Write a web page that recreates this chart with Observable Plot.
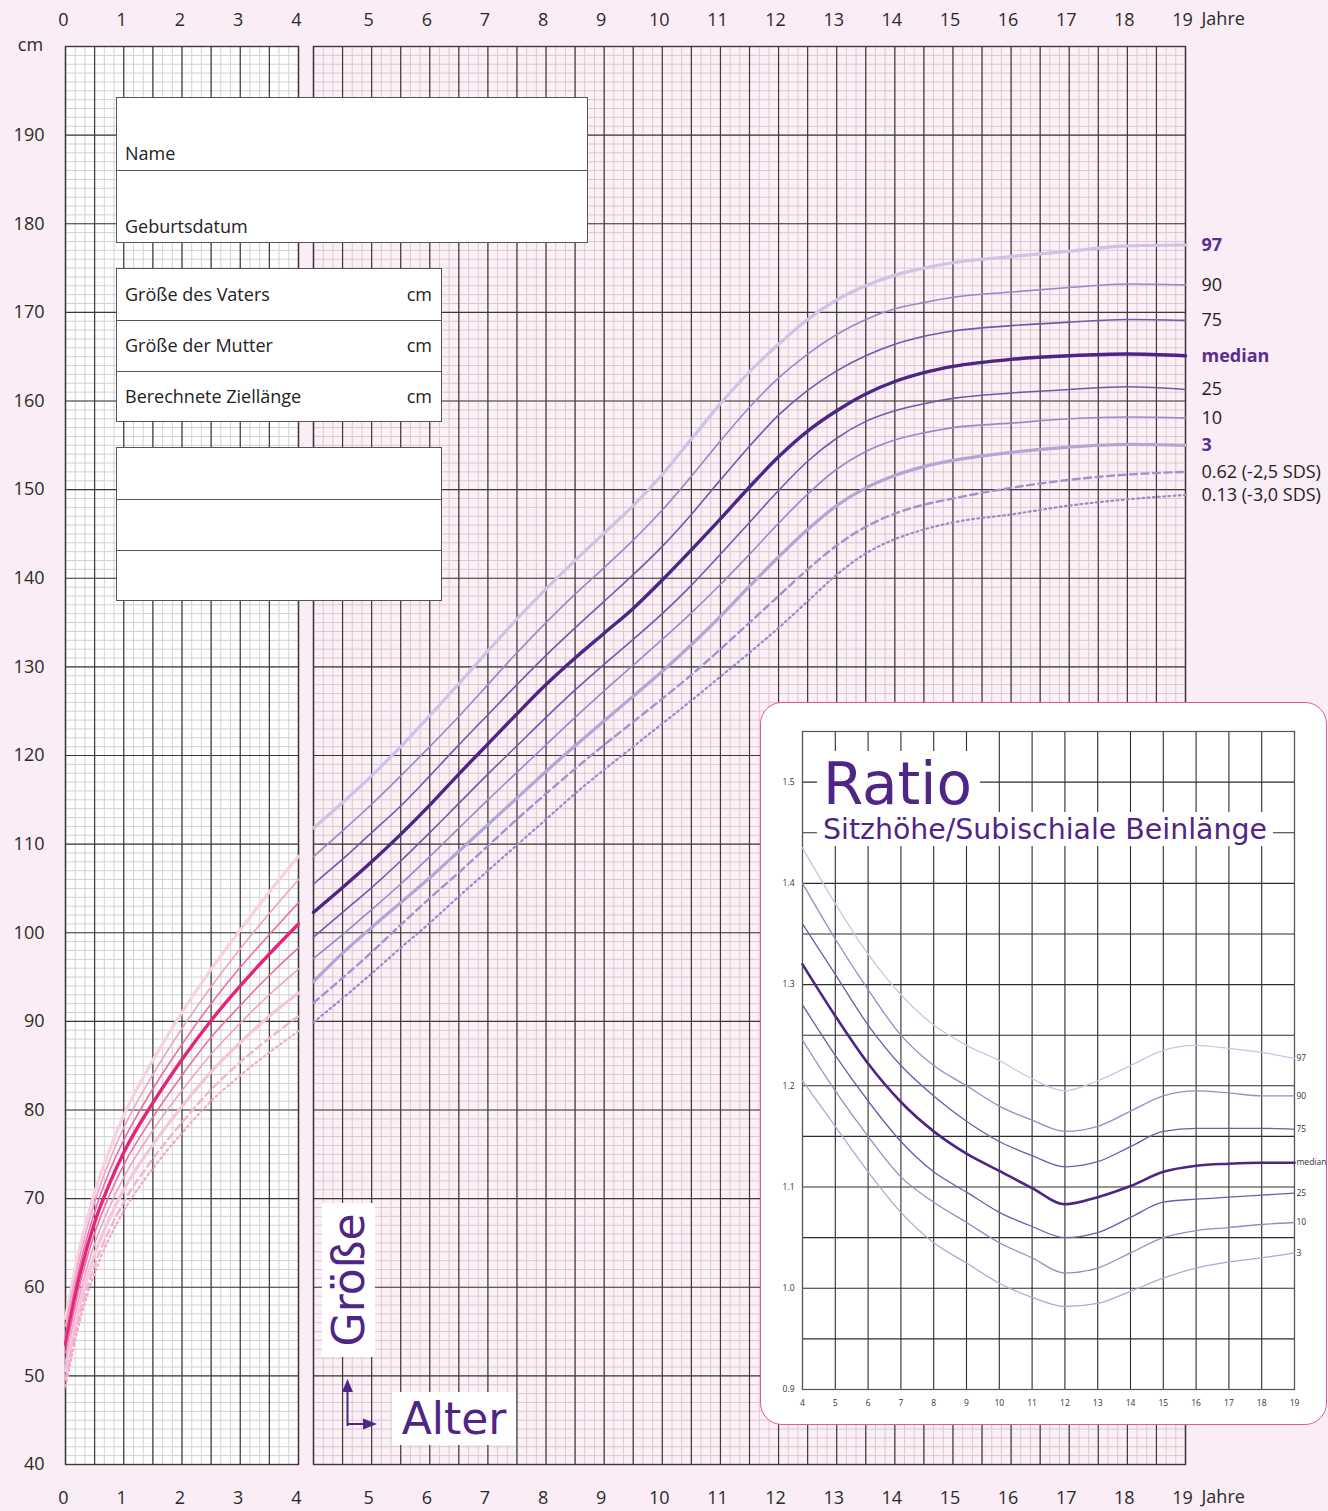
<!DOCTYPE html>
<html><head><meta charset="utf-8">
<script src="https://cdn.jsdelivr.net/npm/d3@7"></script>
<script src="https://cdn.jsdelivr.net/npm/@observablehq/plot@0.6"></script>
<style>
html,body{margin:0;padding:0;background:#fbedf5;}
#page{position:relative;width:1328px;height:1511px;overflow:hidden;background:#fbedf5;font-family:"Open Sans",sans-serif;}
.box{position:absolute;background:#fff;border:1px solid #555;box-sizing:border-box;}
</style></head>
<body><div id="page"></div>
<script>
// ---------- DATA ----------
const seriesNames = ["97","90","75","median","25","10","3","0.62","0.13"];
const seriesLabels = ["97","90","75","median","25","10","3","0.62 (-2,5 SDS)","0.13 (-3,0 SDS)"];

// 0-4 years (cm)
const agesInfant = [0,0.25,0.5,0.75,1,1.5,2,2.5,3,3.5,4];
const inf97  = [56.5,64.6,70.7,75.4,79.4,85.6,91.0,95.9,100.3,104.6,108.6];
const inf90  = [55.6,63.6,69.6,74.2,78.0,84.0,89.2,93.9,98.2,102.2,106.0];
const inf75  = [54.6,62.6,68.5,73.0,76.6,82.4,87.4,92.0,96.1,99.8,103.4];
const infMed = [53.6,61.5,67.3,71.6,75.2,80.8,85.7,90.1,94.0,97.6,101.0];
const inf25  = [52.6,60.4,66.1,70.3,73.8,79.2,83.9,88.2,91.8,95.2,98.3];
const inf10  = [51.6,59.3,64.9,69.0,72.4,77.7,82.2,86.3,89.8,93.0,95.9];
const inf3   = [50.6,58.2,63.7,67.7,71.0,76.1,80.4,84.3,87.6,90.6,93.2];
const inf062 = [49.6,57.1,62.5,66.4,69.6,74.5,78.6,82.3,85.4,88.1,90.6];
const inf013 = [48.8,56.3,61.6,65.5,68.6,73.4,77.4,81.0,83.9,86.5,88.9];

// 4-19 years (cm)
const agesChild = [4,4.5,5,5.5,6,6.5,7,7.5,8,8.5,9,9.5,10,10.5,11,11.5,12,12.5,13,13.5,14,14.5,15,16,17,18,19];
const ch97  = [111.8,114.7,117.7,121.0,124.5,128.1,131.8,135.4,138.8,142.0,145.1,148.2,151.7,155.7,159.7,163.3,166.4,169.2,171.4,173.0,174.2,175.0,175.6,176.3,176.9,177.5,177.6];
const ch90  = [108.6,111.5,114.5,117.7,121.0,124.4,128.0,131.6,135.0,138.2,141.2,144.3,147.7,151.5,155.5,159.3,162.6,165.3,167.5,169.2,170.4,171.1,171.7,172.3,172.8,173.2,173.1];
const ch75  = [105.5,108.3,111.3,114.3,117.7,121.2,124.6,128.0,131.3,134.4,137.4,140.4,143.6,147.2,151.1,154.9,158.4,161.2,163.4,165.1,166.4,167.3,167.9,168.5,168.9,169.2,169.1];
const chMed = [102.3,105.1,108.0,111.1,114.4,117.9,121.3,124.7,128.0,131.0,133.8,136.6,139.8,143.2,146.7,150.3,153.7,156.6,158.9,160.8,162.2,163.2,163.9,164.7,165.1,165.3,165.1];
const ch25  = [99.5,102.3,105.1,108.1,111.3,114.6,117.9,121.1,124.3,127.4,130.3,133.1,136.0,139.2,142.7,146.3,149.9,153.2,155.8,157.7,158.9,159.7,160.3,160.9,161.3,161.6,161.3];
const ch10  = [97.1,99.8,102.6,105.5,108.6,111.8,115.0,118.1,121.2,124.3,127.3,130.2,133.1,136.1,139.3,142.7,146.2,149.5,152.3,154.3,155.6,156.4,157.0,157.5,158.0,158.2,158.1];
const ch3   = [94.5,97.7,100.6,103.4,106.2,109.2,112.2,115.2,118.2,121.1,123.9,126.7,129.5,132.5,135.7,139.1,142.4,145.5,148.2,150.2,151.6,152.6,153.3,154.2,154.8,155.1,155.0];
const ch062 = [92.1,94.9,97.8,100.9,103.9,106.8,109.8,112.8,115.7,118.5,121.2,123.8,126.4,129.1,132.0,135.0,138.0,141.0,143.7,145.8,147.3,148.3,149.0,150.2,151.1,151.7,152.0];
const ch013 = [89.9,92.6,95.4,98.3,101.1,104.1,107.0,109.9,112.8,115.7,118.4,121.0,123.6,126.2,128.9,131.6,134.4,137.4,140.4,142.8,144.4,145.5,146.3,147.2,148.2,148.9,149.4];

// Ratio Sitzhöhe / subischiale Beinlänge, 4-19 years
const ratioNames = ["97","90","75","median","25","10","3"];
const ratioAges = [4,5,6,7,8,9,10,11,12,13,14,15,16,17,18,19];
const r97  = [1.435,1.38,1.33,1.29,1.26,1.24,1.225,1.207,1.195,1.205,1.22,1.235,1.24,1.237,1.233,1.227];
const r90  = [1.40,1.345,1.295,1.25,1.22,1.20,1.18,1.166,1.155,1.16,1.175,1.19,1.195,1.193,1.19,1.19];
const r75  = [1.36,1.31,1.26,1.22,1.19,1.165,1.145,1.131,1.12,1.125,1.14,1.155,1.158,1.158,1.158,1.157];
const rMed = [1.32,1.269,1.222,1.184,1.155,1.133,1.116,1.099,1.083,1.09,1.101,1.115,1.121,1.123,1.124,1.124];
const r25  = [1.28,1.23,1.185,1.145,1.115,1.095,1.075,1.061,1.05,1.055,1.07,1.085,1.088,1.09,1.092,1.094];
const r10  = [1.245,1.195,1.15,1.11,1.085,1.065,1.045,1.03,1.015,1.02,1.035,1.05,1.057,1.06,1.063,1.065];
const r3   = [1.205,1.16,1.115,1.075,1.045,1.025,1.005,0.991,0.982,0.985,0.997,1.01,1.02,1.026,1.03,1.035];

const xTicksLeft = [0,1,2,3,4];
const xTicksRight = [5,6,7,8,9,10,11,12,13,14,15,16,17,18,19];
const yTicks = [40,50,60,70,80,90,100,110,120,130,140,150,160,170,180,190];
const ratioYTicks = [0.9,1.0,1.1,1.2,1.3,1.4,1.5];

// ---------- STYLES ----------
const purpleCol = ["#cdc4e3","#9c88c6","#7657a9","#4e2484","#7657a9","#9c88c6","#b4a5d5","#a592cc","#9d89c8"];
const pinkCol   = ["#f8d0e2","#f0a2c5","#ea6fa6","#e5257c","#ea6fa6","#f0a2c5","#f6c5db","#f3b3cf","#f1a8ca"];
const widths    = [3.2,1.6,1.6,3.4,1.6,1.6,3.2,2.4,2.2];
const dashes    = [null,null,null,null,null,null,null,"7,4.5","1.8,3.4"];
const ratioCol  = ["#cdc4e3","#9c88c6","#7657a9","#4e2484","#7657a9","#9c88c6","#b4a5d5"];
const ratioW    = [1.3,1.3,1.3,2.6,1.3,1.3,1.3];

const W = 1328, H = 1511;
const infantSeries = [inf97,inf90,inf75,infMed,inf25,inf10,inf3,inf062,inf013];
const childSeries = [ch97,ch90,ch75,chMed,ch25,ch10,ch3,ch062,ch013];
const ratioSeries = [r97,r90,r75,rMed,r25,r10,r3];

function rows(ages, vals){ return ages.map((a,i)=>({age:a, v:vals[i]})); }
function curveMarks(ages, series, cols){
  return series.map((s,k)=>Plot.line(rows(ages,s), {
    x:"age", y:"v", stroke: cols[k], strokeWidth: widths[k],
    strokeDasharray: dashes[k] || undefined, curve:"monotone-x"
  }));
}
function gridMarks(x0, x1, fine, dark){
  const fx = d3.range(Math.round(x0*6), Math.round(x1*6)+1).map(i=>i/6);
  const dx = d3.range(Math.round(x0*2), Math.round(x1*2)+1).map(i=>i/2);
  return [
    Plot.ruleX(fx, {stroke: fine, strokeWidth: 1}),
    Plot.ruleY(d3.range(40,201,1), {stroke: fine, strokeWidth: 1}),
    Plot.ruleX(dx, {stroke: dark, strokeWidth: 1.2}),
    Plot.ruleY(d3.range(40,201,10), {stroke: dark, strokeWidth: 1.2}),
    Plot.frame({stroke: dark, strokeWidth: 1.4})
  ];
}
const axisStyle = {tickSize:0, fontSize:18, fill:"#2a2a2a", label:null};

const left = Plot.plot({
  width: W, height: H,
  marginLeft: 65, marginRight: W-298, marginTop: 46, marginBottom: H-1464,
  x: {domain:[0,4], label:null}, y: {domain:[40,200], label:null},
  style: {background:"transparent", fontFamily:"Open Sans", fontSize:"18px", color:"#2a2a2a", overflow:"visible"},
  marks: [
    Plot.frame({fill:"white"}),
    ...gridMarks(0,4,"#d2d2d2","#3a3a3a"),
    ...curveMarks(agesInfant, infantSeries, pinkCol),
    Plot.axisX(xTicksLeft, {anchor:"top", ...axisStyle, tickPadding:21, dx:-2}),
    Plot.axisX(xTicksLeft, {anchor:"bottom", ...axisStyle, tickPadding:27, dx:-2}),
    Plot.axisY(yTicks, {anchor:"left", ...axisStyle, tickPadding:21}),
    Plot.text(["cm"], {x:0, y:200, text:d=>d, dx:-35, dy:-1, fontSize:18, fill:"#2a2a2a"})
  ]
});

const endRows = seriesNames.map((n,k)=>({name:n, label:seriesLabels[k], age:19, v:childSeries[k][childSeries[k].length-1], bold: (n==="97"||n==="median"||n==="3")}));
const right = Plot.plot({
  width: W, height: H,
  marginLeft: 313, marginRight: W-1185, marginTop: 46, marginBottom: H-1464,
  x: {domain:[4,19], label:null}, y: {domain:[40,200], label:null, axis:null},
  style: {background:"transparent", fontFamily:"Open Sans", fontSize:"18px", color:"#2a2a2a", overflow:"visible"},
  marks: [
    Plot.frame({fill:"#fcf0f6"}),
    ...gridMarks(4,19,"#d8c8d0","#3a3a3a"),
    ...curveMarks(agesChild, childSeries, purpleCol),
    Plot.axisX(xTicksRight, {anchor:"top", ...axisStyle, tickPadding:21, dx:-3}),
    Plot.axisX(xTicksRight, {anchor:"bottom", ...axisStyle, tickPadding:27, dx:-3}),
    Plot.text(["Jahre"], {x:19, y:200, text:d=>d, dx:16, dy:-27, textAnchor:"start", fontSize:18, fill:"#2a2a2a"}),
    Plot.text(["Jahre"], {x:19, y:40, text:d=>d, dx:16, dy:33, textAnchor:"start", fontSize:18, fill:"#2a2a2a"}),
    Plot.text(endRows.filter(d=>!d.bold), {x:"age", y:"v", text:"label", dx:16, textAnchor:"start", fontSize:18, fill:"#222"}),
    Plot.text(endRows.filter(d=>d.bold), {x:"age", y:"v", text:"label", dx:16, textAnchor:"start", fontSize:18, fontWeight:"bold", fill:"#5a2e90"})
  ]
});

const ratioEnd = ratioNames.map((n,k)=>({label:n, age:19, v:ratioSeries[k][ratioSeries[k].length-1]}));
const inset = Plot.plot({
  width: 568, height: 723,
  marginLeft: 42, marginRight: 34, marginTop: 29, marginBottom: 36,
  x: {domain:[4,19], label:null}, y: {domain:[0.9,1.55], label:null},
  style: {background:"transparent", fontFamily:"Open Sans", fontSize:"9px", color:"#333", overflow:"visible"},
  marks: [
    Plot.ruleX(d3.range(4,20), {stroke:"#2e2e2e", strokeWidth:1.1}),
    Plot.ruleY(d3.range(0,14).map(i=>0.9+i*0.05), {stroke:"#2e2e2e", strokeWidth:1.1}),
    Plot.frame({stroke:"#555", strokeWidth:1.2}),
    ...ratioSeries.map((s,k)=>Plot.line(rows(ratioAges,s), {x:"age", y:"v", stroke:ratioCol[k], strokeWidth:ratioW[k], curve:"monotone-x"})),
    Plot.axisX(ratioAges, {anchor:"bottom", tickSize:0, tickPadding:10, fontSize:8.5, fill:"#333", label:null}),
    Plot.axisY(ratioYTicks, {anchor:"left", tickSize:0, tickPadding:8, fontSize:8.5, fill:"#333", label:null, tickFormat:d=>d.toFixed(1)}),
    Plot.text(ratioEnd, {x:"age", y:"v", text:"label", dx:2, textAnchor:"start", fontSize:8.5, fill:"#333"})
  ]
});

// ---------- ASSEMBLY ----------
const page = document.getElementById("page");
for (const svg of [left, right]) { svg.style.position="absolute"; svg.style.left="0"; svg.style.top="0"; svg.style.maxWidth="none"; page.appendChild(svg); }

function el(tag, css, html){ const e=document.createElement(tag); e.style.cssText=css; if(html!=null) e.innerHTML=html; return e; }

// form boxes
const b1 = el("div","left:116px;top:97px;width:472px;height:146px;"); b1.className="box";
b1.appendChild(el("div","position:absolute;left:0;right:0;top:0;height:73px;border-bottom:1px solid #555;box-sizing:border-box;"));
b1.appendChild(el("div","position:absolute;left:8px;top:46px;font-size:18px;color:#222;line-height:1.1;","Name"));
b1.appendChild(el("div","position:absolute;left:8px;top:119px;font-size:18px;color:#222;line-height:1.1;","Geburtsdatum"));
page.appendChild(b1);

const b2 = el("div","left:116px;top:268px;width:326px;height:154px;"); b2.className="box";
["Größe des Vaters","Größe der Mutter","Berechnete Ziellänge"].forEach((t,i)=>{
  if(i<2) b2.appendChild(el("div",`position:absolute;left:0;right:0;top:${i*51}px;height:52px;border-bottom:1px solid #555;box-sizing:border-box;`));
  b2.appendChild(el("div",`position:absolute;left:8px;top:${i*51+16}px;font-size:18px;color:#222;line-height:1.1;`, t));
  b2.appendChild(el("div",`position:absolute;right:9px;top:${i*51+16}px;font-size:18px;color:#222;line-height:1.1;`, "cm"));
});
page.appendChild(b2);

const b3 = el("div","left:116px;top:447px;width:326px;height:154px;"); b3.className="box";
[0,1].forEach(i=> b3.appendChild(el("div",`position:absolute;left:0;right:0;top:${i*51}px;height:52px;border-bottom:1px solid #555;box-sizing:border-box;`)));
page.appendChild(b3);

// axis words
const g = el("div","position:absolute;left:322px;top:1203px;width:53px;height:154px;background:#fff;");
g.appendChild(el("div","position:absolute;left:50%;top:50%;transform:translate(-50%,-50%) rotate(-90deg);white-space:nowrap;font:44px 'DejaVu Sans',sans-serif;color:#4f2585;line-height:1;","Größe"));
page.appendChild(g);
page.appendChild(el("div","position:absolute;left:392px;top:1392px;width:124px;height:53px;background:#fff;text-align:center;font:44px 'DejaVu Sans',sans-serif;color:#4f2585;line-height:53px;","Alter"));
page.appendChild(el("div","position:absolute;left:335px;top:1372px;width:50px;height:60px;",
 `<svg width="50" height="60" viewBox="0 0 50 60"><path d="M12.5 54 V14 M12.5 52 H34" stroke="#4f2585" stroke-width="2" fill="none"/><path d="M7 20 L12.5 7 L18 20 Z" fill="#4f2585"/><path d="M28 46.5 L42 52 L28 57.5 Z" fill="#4f2585"/></svg>`));

// inset
page.appendChild(el("div","position:absolute;left:760px;top:702px;width:567px;height:723px;background:#fff;border:1.6px solid #e2589e;border-radius:22px;box-sizing:border-box;"));
inset.style.position="absolute"; inset.style.left="760px"; inset.style.top="702px"; inset.style.maxWidth="none";
page.appendChild(inset);
page.appendChild(el("div","position:absolute;left:817px;top:751px;width:163px;height:61px;background:#fff;"));
page.appendChild(el("div","position:absolute;left:817px;top:812px;width:456px;height:34px;background:#fff;"));
page.appendChild(el("div","position:absolute;left:823px;top:755px;font:58px 'DejaVu Sans',sans-serif;color:#4f2585;line-height:1;","Ratio"));
page.appendChild(el("div","position:absolute;left:823px;top:816px;font:28.4px 'DejaVu Sans',sans-serif;color:#4f2585;line-height:1;white-space:nowrap;","Sitzhöhe/Subischiale Beinlänge"));
</script></body></html>
